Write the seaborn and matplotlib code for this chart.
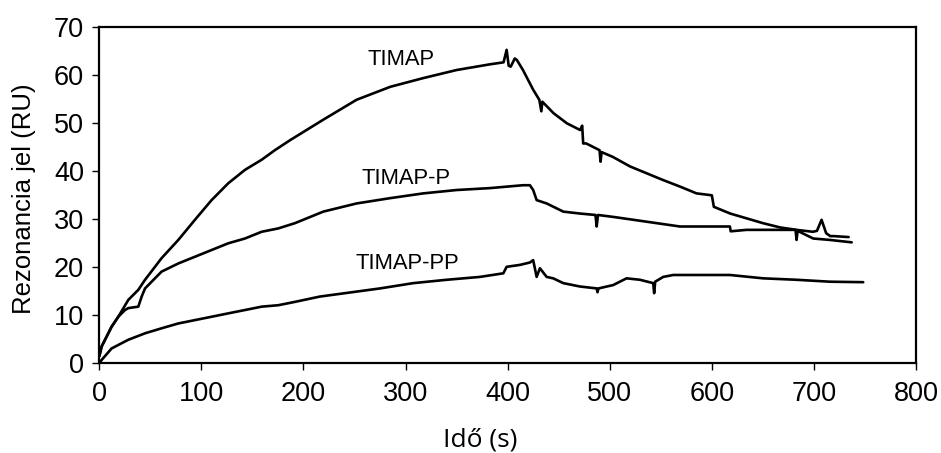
import matplotlib
matplotlib.use("Agg")
import matplotlib.pyplot as plt
import seaborn as sns
import pandas as pd

# ---- data ----
timap_t = [0, 2.3, 12, 18.6, 28.4, 38.2, 44.8, 61, 77.4, 93.7,
           110, 126.3, 142.7, 159, 172, 187, 219, 252, 285, 317,
           350, 383, 396, 399, 401, 403, 407, 409, 415, 425,
           431, 433, 434, 445, 458, 471, 473, 474, 477, 490,
           491, 492, 503, 520, 536, 552, 569, 585, 600, 602,
           618, 634, 650, 667, 683, 699, 703, 707.5, 712, 716,
           719, 734]
timap_v = [1.5, 3.5, 7.6, 9.7, 13.2, 15.3, 17.4, 21.9, 25.7, 29.9,
           34, 37.5, 40.3, 42.4, 44.4, 46.5, 50.7, 54.9, 57.6, 59.4,
           61.1, 62.3, 62.7, 65.3, 62, 61.8, 63.5, 63.2, 61.1, 57,
           54.9, 52.5, 54.5, 52.1, 50, 48.6, 49.5, 45.8, 45.8, 44.4,
           42, 44, 43, 41, 39.6, 38.2, 36.8, 35.4, 35, 32.6,
           31.2, 30.2, 29.2, 28.3, 27.8, 27.4, 27.6, 29.9, 27.1, 26.5,
           26.5, 26.3]

timapp_t = [0, 2.3, 12, 18.6, 25.2, 28.4, 38.2, 41.5, 44.8, 61,
            77.4, 93.7, 110, 126.3, 142.7, 159, 175.3, 191.7, 219.4, 252,
            284.7, 317.4, 350, 382.7, 415, 421.8, 425, 428.4, 438.2, 454.5,
            470.8, 486, 487.2, 488.5, 503.4, 536.1, 568.8, 601.4, 617.7, 618.5,
            634, 666.7, 682, 683, 684, 699.3, 715.7, 737]
timapp_v = [1.5, 3.5, 7.6, 9.7, 11.1, 11.5, 11.8, 13.9, 15.6, 19.1,
            20.8, 22.2, 23.6, 25, 26, 27.4, 28.1, 29.2, 31.6, 33.3,
            34.4, 35.4, 36.1, 36.5, 37.1, 37.1, 36.1, 34, 33.3, 31.6,
            31.2, 30.9, 28.5, 30.9, 30.5, 29.5, 28.5, 28.5, 28.5, 27.5,
            27.8, 27.8, 27.8, 25.7, 27.6, 26, 25.7, 25.2]

timappp_t = [0, 2.3, 12.1, 28.4, 44.8, 61.1, 77.4, 93.7, 110, 126.3,
             142.7, 159, 175.3, 191.7, 216, 275, 307.5, 340.3, 372.9, 395.8,
             399, 412, 421.8, 425, 428.4, 431.6, 438.2, 444.6, 454.5, 470.8,
             487.2, 488, 489, 503.4, 516.5, 529.6, 542.6, 543.5, 544.5, 552.4,
             562.2, 585, 617.7, 650.3, 683, 715.7, 748.3]
timappp_v = [0, 0.7, 3.1, 4.9, 6.25, 7.3, 8.3, 9, 9.7, 10.4,
             11.1, 11.8, 12.1, 12.8, 13.9, 15.6, 16.7, 17.4, 18, 18.75,
             20.1, 20.5, 21, 21.5, 18, 19.8, 18, 17.7, 16.7, 16,
             15.6, 14.8, 15.6, 16.3, 17.7, 17.4, 16.7, 14.6, 17, 18,
             18.4, 18.4, 18.4, 17.7, 17.4, 17, 16.9]

series_names = ["TIMAP", "TIMAP-P", "TIMAP-PP"]
label_pos_x = [296, 300, 302]
label_pos_y = [63.2, 38.5, 20.8]

x_ticks = [0, 100, 200, 300, 400, 500, 600, 700, 800]
y_ticks = [0, 10, 20, 30, 40, 50, 60, 70]
x_label = "Idő (s)"
y_label = "Rezonancia jel (RU)"

# ---- plot ----
sns.set_style("ticks")
plt.rcParams['font.family'] = ['Liberation Sans', 'DejaVu Sans']

fig = plt.figure(figsize=(9.41, 4.53), dpi=100)
ax = fig.add_axes([99.3 / 941, (453 - 363.3) / 453, 816.7 / 941, 336 / 453])

series = [(timap_t, timap_v), (timapp_t, timapp_v), (timappp_t, timappp_v)]
for name, (t, v) in zip(series_names, series):
    df = pd.DataFrame({"t": t, "v": v})
    sns.lineplot(data=df, x="t", y="v", ax=ax, color="black", linewidth=1.9,
                 sort=False, estimator=None)

for name, lx, ly in zip(series_names, label_pos_x, label_pos_y):
    ax.text(lx, ly, name, ha="center", va="center", fontsize=15.8,
            color="black")

ax.set_xlim(0, 800)
ax.set_ylim(0, 70)
ax.set_xticks(x_ticks)
ax.set_yticks(y_ticks)
ax.tick_params(axis="both", direction="out", length=5, width=1,
               colors="black", labelsize=19.5)
ax.tick_params(axis="x", pad=8)
ax.tick_params(axis="y", pad=6)
for sp in ax.spines.values():
    sp.set_visible(True)
    sp.set_linewidth(1.6)
    sp.set_color("black")

ax.set_xlabel(x_label, fontsize=19, color="black",
              family=["Open Sans", "DejaVu Sans"])
ax.set_ylabel(y_label, fontsize=18.5, color="black")
ax.xaxis.set_label_coords(0.466, -0.19)
ax.yaxis.set_label_coords(-0.077, 0.49)

fig.savefig("out.png", dpi=100, facecolor="white")
